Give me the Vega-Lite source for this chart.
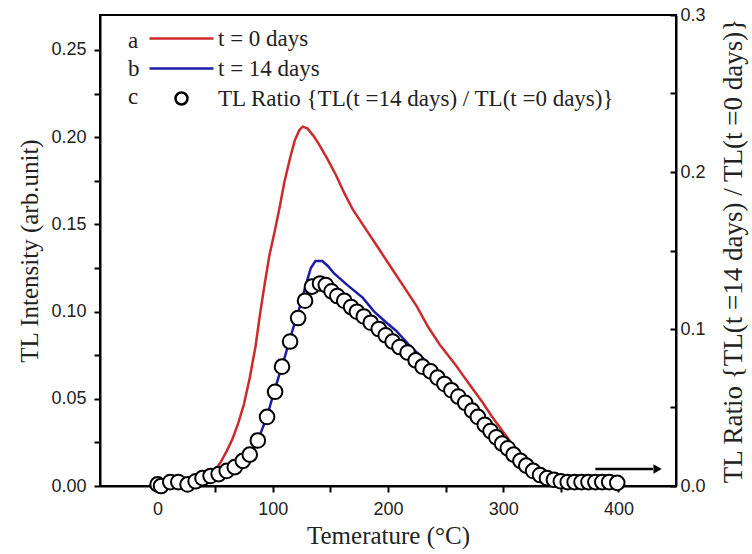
{
  "$schema": "https://vega.github.io/schema/vega-lite/v6.json",
  "width": 576,
  "height": 471,
  "autosize": {"type": "none"},
  "padding": {"left": 100, "top": 15, "right": 76, "bottom": 68},
  "background": "white",
  "datasets": {
    "lines": [
      {"T": 0, "I": 0.0005, "series": "t = 0 days"},
      {"T": 10, "I": 0.0008, "series": "t = 0 days"},
      {"T": 20, "I": 0.001, "series": "t = 0 days"},
      {"T": 30, "I": 0.002, "series": "t = 0 days"},
      {"T": 40, "I": 0.003, "series": "t = 0 days"},
      {"T": 45, "I": 0.005, "series": "t = 0 days"},
      {"T": 50, "I": 0.009, "series": "t = 0 days"},
      {"T": 55, "I": 0.014, "series": "t = 0 days"},
      {"T": 60, "I": 0.02, "series": "t = 0 days"},
      {"T": 65, "I": 0.027, "series": "t = 0 days"},
      {"T": 70, "I": 0.036, "series": "t = 0 days"},
      {"T": 75, "I": 0.047, "series": "t = 0 days"},
      {"T": 80, "I": 0.062, "series": "t = 0 days"},
      {"T": 85, "I": 0.08, "series": "t = 0 days"},
      {"T": 89, "I": 0.099, "series": "t = 0 days"},
      {"T": 93, "I": 0.116, "series": "t = 0 days"},
      {"T": 97, "I": 0.132, "series": "t = 0 days"},
      {"T": 102, "I": 0.147, "series": "t = 0 days"},
      {"T": 106, "I": 0.16, "series": "t = 0 days"},
      {"T": 110, "I": 0.174, "series": "t = 0 days"},
      {"T": 115, "I": 0.188, "series": "t = 0 days"},
      {"T": 119, "I": 0.198, "series": "t = 0 days"},
      {"T": 123, "I": 0.204, "series": "t = 0 days"},
      {"T": 126, "I": 0.206, "series": "t = 0 days"},
      {"T": 130, "I": 0.205, "series": "t = 0 days"},
      {"T": 135, "I": 0.201, "series": "t = 0 days"},
      {"T": 140, "I": 0.196, "series": "t = 0 days"},
      {"T": 147, "I": 0.188, "series": "t = 0 days"},
      {"T": 155, "I": 0.178, "series": "t = 0 days"},
      {"T": 162, "I": 0.168, "series": "t = 0 days"},
      {"T": 169, "I": 0.159, "series": "t = 0 days"},
      {"T": 178, "I": 0.15, "series": "t = 0 days"},
      {"T": 192, "I": 0.136, "series": "t = 0 days"},
      {"T": 204, "I": 0.124, "series": "t = 0 days"},
      {"T": 215, "I": 0.113, "series": "t = 0 days"},
      {"T": 225, "I": 0.103, "series": "t = 0 days"},
      {"T": 235, "I": 0.091, "series": "t = 0 days"},
      {"T": 245, "I": 0.081, "series": "t = 0 days"},
      {"T": 258, "I": 0.07, "series": "t = 0 days"},
      {"T": 272, "I": 0.057, "series": "t = 0 days"},
      {"T": 282, "I": 0.048, "series": "t = 0 days"},
      {"T": 290, "I": 0.04, "series": "t = 0 days"},
      {"T": 300, "I": 0.031, "series": "t = 0 days"},
      {"T": 310, "I": 0.022, "series": "t = 0 days"},
      {"T": 318, "I": 0.017, "series": "t = 0 days"},
      {"T": 325, "I": 0.013, "series": "t = 0 days"},
      {"T": 333, "I": 0.009, "series": "t = 0 days"},
      {"T": 340, "I": 0.006, "series": "t = 0 days"},
      {"T": 348, "I": 0.003, "series": "t = 0 days"},
      {"T": 360, "I": 0.002, "series": "t = 0 days"},
      {"T": 380, "I": 0.001, "series": "t = 0 days"},
      {"T": 400, "I": 0.001, "series": "t = 0 days"},
      {"T": 0, "I": 0.0005, "series": "t = 14 days"},
      {"T": 20, "I": 0.001, "series": "t = 14 days"},
      {"T": 40, "I": 0.003, "series": "t = 14 days"},
      {"T": 50, "I": 0.005, "series": "t = 14 days"},
      {"T": 60, "I": 0.008, "series": "t = 14 days"},
      {"T": 70, "I": 0.012, "series": "t = 14 days"},
      {"T": 80, "I": 0.018, "series": "t = 14 days"},
      {"T": 87, "I": 0.026, "series": "t = 14 days"},
      {"T": 95, "I": 0.04, "series": "t = 14 days"},
      {"T": 102, "I": 0.056, "series": "t = 14 days"},
      {"T": 110, "I": 0.073, "series": "t = 14 days"},
      {"T": 117, "I": 0.089, "series": "t = 14 days"},
      {"T": 124, "I": 0.104, "series": "t = 14 days"},
      {"T": 129, "I": 0.116, "series": "t = 14 days"},
      {"T": 133, "I": 0.125, "series": "t = 14 days"},
      {"T": 137, "I": 0.129, "series": "t = 14 days"},
      {"T": 143, "I": 0.129, "series": "t = 14 days"},
      {"T": 148, "I": 0.126, "series": "t = 14 days"},
      {"T": 153, "I": 0.122, "series": "t = 14 days"},
      {"T": 165, "I": 0.115, "series": "t = 14 days"},
      {"T": 178, "I": 0.108, "series": "t = 14 days"},
      {"T": 188, "I": 0.1, "series": "t = 14 days"},
      {"T": 198, "I": 0.094, "series": "t = 14 days"},
      {"T": 207, "I": 0.089, "series": "t = 14 days"},
      {"T": 218, "I": 0.081, "series": "t = 14 days"},
      {"T": 229, "I": 0.074, "series": "t = 14 days"},
      {"T": 240, "I": 0.067, "series": "t = 14 days"},
      {"T": 253, "I": 0.06, "series": "t = 14 days"},
      {"T": 264, "I": 0.053, "series": "t = 14 days"},
      {"T": 275, "I": 0.044, "series": "t = 14 days"},
      {"T": 285, "I": 0.036, "series": "t = 14 days"},
      {"T": 295, "I": 0.028, "series": "t = 14 days"},
      {"T": 305, "I": 0.021, "series": "t = 14 days"},
      {"T": 315, "I": 0.015, "series": "t = 14 days"},
      {"T": 325, "I": 0.01, "series": "t = 14 days"},
      {"T": 335, "I": 0.006, "series": "t = 14 days"},
      {"T": 345, "I": 0.003, "series": "t = 14 days"},
      {"T": 360, "I": 0.002, "series": "t = 14 days"},
      {"T": 380, "I": 0.0015, "series": "t = 14 days"},
      {"T": 400, "I": 0.0015, "series": "t = 14 days"}
    ],
    "ratio": [
      {"T": 0, "R": 0.001}, {"T": 3, "R": 0.0}, {"T": 11, "R": 0.0025}, {"T": 18, "R": 0.0025},
      {"T": 26, "R": 0.001}, {"T": 33, "R": 0.003}, {"T": 39, "R": 0.005}, {"T": 46, "R": 0.0064},
      {"T": 53, "R": 0.0076}, {"T": 60, "R": 0.0096}, {"T": 67, "R": 0.012}, {"T": 74, "R": 0.016},
      {"T": 80, "R": 0.02}, {"T": 87, "R": 0.029}, {"T": 95, "R": 0.044}, {"T": 102, "R": 0.06},
      {"T": 108, "R": 0.076}, {"T": 115, "R": 0.092}, {"T": 122, "R": 0.107}, {"T": 128, "R": 0.118},
      {"T": 134, "R": 0.127}, {"T": 141, "R": 0.129}, {"T": 146, "R": 0.128}, {"T": 151, "R": 0.124},
      {"T": 156, "R": 0.121}, {"T": 162, "R": 0.118}, {"T": 168, "R": 0.114}, {"T": 173, "R": 0.111},
      {"T": 179, "R": 0.108}, {"T": 185, "R": 0.104}, {"T": 192, "R": 0.1}, {"T": 198, "R": 0.096},
      {"T": 204, "R": 0.092}, {"T": 210, "R": 0.0885}, {"T": 217, "R": 0.085}, {"T": 224, "R": 0.08},
      {"T": 230, "R": 0.076}, {"T": 237, "R": 0.073}, {"T": 243, "R": 0.069}, {"T": 249, "R": 0.065},
      {"T": 255, "R": 0.061}, {"T": 261, "R": 0.057}, {"T": 267, "R": 0.053}, {"T": 273, "R": 0.048},
      {"T": 278, "R": 0.044}, {"T": 284, "R": 0.039}, {"T": 289, "R": 0.035}, {"T": 294, "R": 0.031},
      {"T": 299, "R": 0.027}, {"T": 304, "R": 0.024}, {"T": 309, "R": 0.02}, {"T": 315, "R": 0.016},
      {"T": 320, "R": 0.013}, {"T": 326, "R": 0.0096}, {"T": 332, "R": 0.007}, {"T": 338, "R": 0.005},
      {"T": 344, "R": 0.004}, {"T": 350, "R": 0.003}, {"T": 356, "R": 0.0025}, {"T": 362, "R": 0.0025},
      {"T": 368, "R": 0.0025}, {"T": 374, "R": 0.0025}, {"T": 380, "R": 0.0025}, {"T": 386, "R": 0.0025},
      {"T": 392, "R": 0.0025}, {"T": 399, "R": 0.002}
    ],
    "arrow": [{"x": 380, "x2": 430, "xh": 434, "y": 0.0098}]
  },
  "config": {
    "view": {"stroke": "black", "strokeWidth": 2},
    "axis": {
      "grid": false,
      "domainColor": "black",
      "domainWidth": 2,
      "tickColor": "black",
      "tickWidth": 2,
      "tickSize": 6,
      "labelFont": "Liberation Sans",
      "labelFontSize": 18,
      "labelColor": "#222",
      "titleFont": "Liberation Serif",
      "titleFontWeight": "normal",
      "titleColor": "#222",
      "titleFontSize": 25
    }
  },
  "layer": [
    {
      "layer": [
        {
          "data": {"name": "lines"},
          "mark": {"type": "line", "strokeWidth": 2.5},
          "encoding": {
            "x": {
              "field": "T", "type": "quantitative",
              "scale": {"domain": [-50, 450], "nice": false, "zero": false},
              "axis": {
                "values": [0, 50, 100, 150, 200, 250, 300, 350, 400],
                "labelExpr": "datum.value % 100 === 0 ? format(datum.value, 'd') : ''",
                "labelPadding": 8,
                "title": "Temerature (°C)",
                "titlePadding": 5
              }
            },
            "y": {
              "field": "I", "type": "quantitative",
              "scale": {"domain": [0, 0.27], "nice": false, "zero": false},
              "axis": {
                "values": [0, 0.025, 0.05, 0.075, 0.1, 0.125, 0.15, 0.175, 0.2, 0.225, 0.25],
                "labelExpr": "abs(datum.value / 0.05 - round(datum.value / 0.05)) < 0.000001 ? format(datum.value, '.2f') : ''",
                "labelPadding": 8,
                "title": "TL Intensity (arb.unit)",
                "titlePadding": 8
              }
            },
            "color": {
              "field": "series", "type": "nominal",
              "scale": {
                "domain": ["t = 0 days", "t = 14 days", "TL Ratio {TL(t =14 days) / TL(t =0 days)}"],
                "range": ["#cc2b2b", "#1c1ca8", "black"]
              },
              "legend": {
                "orient": "none", "legendX": 28, "legendY": 12,
                "title": ["a", "b", "c"], "titleOrient": "left",
                "titleFont": "Liberation Serif", "titleFontSize": 23, "titleFontWeight": "normal",
                "titleColor": "#222", "titleLineHeight": 28, "titlePadding": 30,
                "labelFont": "Liberation Serif", "labelFontSize": 23, "labelColor": "#222",
                "labelOffset": 25, "labelLimit": 0, "symbolSize": 256, "symbolStrokeWidth": 2.5,
                "symbolFillColor": "white", "rowPadding": 6, "padding": 0
              }
            }
          }
        },
        {
          "data": {"name": "arrow"},
          "mark": {"type": "rule", "strokeWidth": 2.5, "color": "black"},
          "encoding": {
            "x": {"field": "x", "type": "quantitative"},
            "x2": {"field": "x2"},
            "y": {"field": "y", "type": "quantitative"}
          }
        },
        {
          "data": {"name": "arrow"},
          "mark": {"type": "point", "shape": "triangle-right", "filled": true, "color": "black", "size": 90, "opacity": 1},
          "encoding": {
            "x": {"field": "xh", "type": "quantitative"},
            "y": {"field": "y", "type": "quantitative"}
          }
        }
      ]
    },
    {
      "data": {"name": "ratio"},
      "transform": [{"calculate": "'TL Ratio {TL(t =14 days) / TL(t =0 days)}'", "as": "series"}],
      "mark": {"type": "point", "filled": false, "fill": "white", "strokeWidth": 2, "size": 380, "opacity": 1},
      "encoding": {
        "x": {"field": "T", "type": "quantitative"},
        "y": {
          "field": "R", "type": "quantitative",
          "scale": {"domain": [0, 0.3], "nice": false, "zero": false},
          "axis": {
            "orient": "right",
            "values": [0, 0.05, 0.1, 0.15, 0.2, 0.25, 0.3],
            "labelExpr": "abs(datum.value / 0.1 - round(datum.value / 0.1)) < 0.000001 ? format(datum.value, '.1f') : ''",
            "tickSize": -6,
            "labelPadding": 10,
            "title": "TL Ratio {TL(t =14 days) / TL(t =0 days)}",
            "titleAngle": 270,
            "titleFontSize": 27,
            "titlePadding": 42
          }
        },
        "color": {"field": "series", "type": "nominal"},
        "shape": {
          "field": "series", "type": "nominal",
          "scale": {
            "domain": ["t = 0 days", "t = 14 days", "TL Ratio {TL(t =14 days) / TL(t =0 days)}"],
            "range": ["M-4,0H4", "M-4,0H4", "M0.75,0A0.75,0.75,0,1,1,-0.75,0A0.75,0.75,0,1,1,0.75,0Z"]
          },
          "legend": {
            "orient": "none", "legendX": 28, "legendY": 12,
            "title": ["a", "b", "c"], "titleOrient": "left",
            "titleFont": "Liberation Serif", "titleFontSize": 23, "titleFontWeight": "normal",
            "titleColor": "#222", "titleLineHeight": 28, "titlePadding": 30,
            "labelFont": "Liberation Serif", "labelFontSize": 23, "labelColor": "#222",
            "labelOffset": 25, "labelLimit": 0, "symbolSize": 256, "symbolStrokeWidth": 2.5,
            "symbolFillColor": "white", "rowPadding": 6, "padding": 0
          }
        }
      }
    }
  ],
  "resolve": {"scale": {"y": "independent"}}
}
